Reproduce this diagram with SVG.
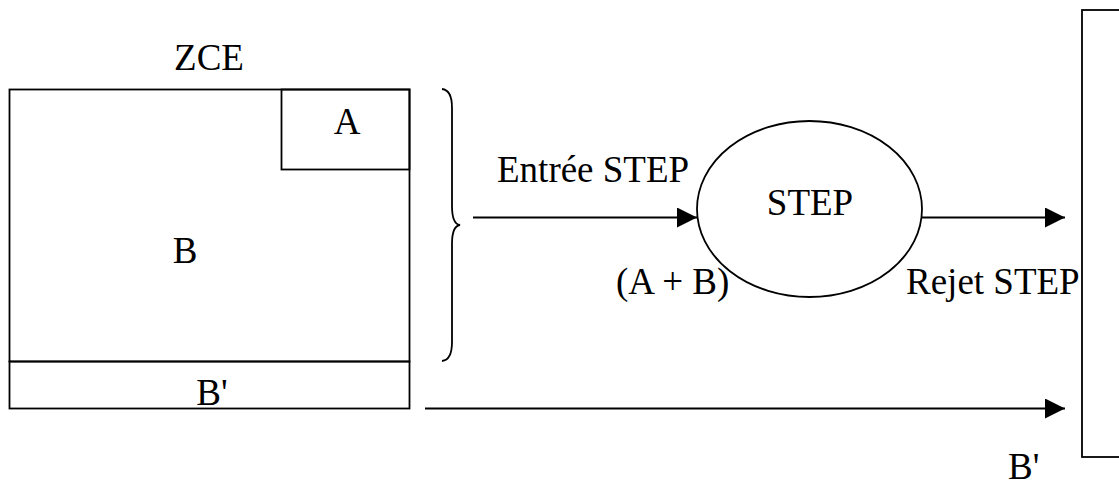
<svg xmlns="http://www.w3.org/2000/svg" width="1119" height="486" viewBox="0 0 1119 486">
<style>
.s{fill:none;stroke:#000;stroke-width:1.8}
.t{font-family:"Liberation Serif","Times New Roman",serif;font-size:37px;fill:#000}
.m{text-anchor:middle}
</style>
<defs>
<marker id="ah" viewBox="0 0 20 20" refX="20" refY="10" markerWidth="20" markerHeight="20" markerUnits="userSpaceOnUse" orient="auto">
<path d="M0,0 L20,10 L0,20 Z" fill="#000"/>
</marker>
</defs>
<rect width="1119" height="486" fill="#fff"/>
<g id="zce">
<text class="t m" x="209" y="70">ZCE</text>
<rect class="s" x="9.5" y="89.5" width="400" height="272"/>
</g>
<g id="A">
<rect class="s" x="281.5" y="89.5" width="128" height="80"/>
<text class="t m" x="347" y="134">A</text>
</g>
<g id="B">
<text class="t m" x="185" y="263">B</text>
</g>
<g id="Bp">
<rect class="s" x="9.5" y="361.5" width="400" height="47"/>
<text class="t m" x="212" y="405">B'</text>
</g>
<g id="brace">
<path class="s" d="M442,89 Q452,90 452,108 L452,206 Q452,224 460,225 Q452,226 452,244 L452,342 Q452,360 442,361"/>
</g>
<g id="step">
<ellipse class="s" cx="809.5" cy="209" rx="112.5" ry="88"/>
<text class="t m" x="810" y="215">STEP</text>
</g>
<g id="dest">
<rect class="s" x="1082" y="10" width="60" height="447"/>
</g>
<g id="connectors">
<line class="s" x1="473" y1="217.5" x2="697" y2="217.5" marker-end="url(#ah)"/>
<line class="s" x1="922" y1="217.5" x2="1065" y2="217.5" marker-end="url(#ah)"/>
<line class="s" x1="425" y1="408.5" x2="1065" y2="408.5" marker-end="url(#ah)"/>
</g>
<g id="labels">
<text class="t" x="497" y="182">Entrée STEP</text>
<text class="t" x="616" y="294">(A + B)</text>
<text class="t" x="906" y="294">Rejet STEP</text>
<text class="t" x="1008" y="479">B'</text>
</g>
</svg>
